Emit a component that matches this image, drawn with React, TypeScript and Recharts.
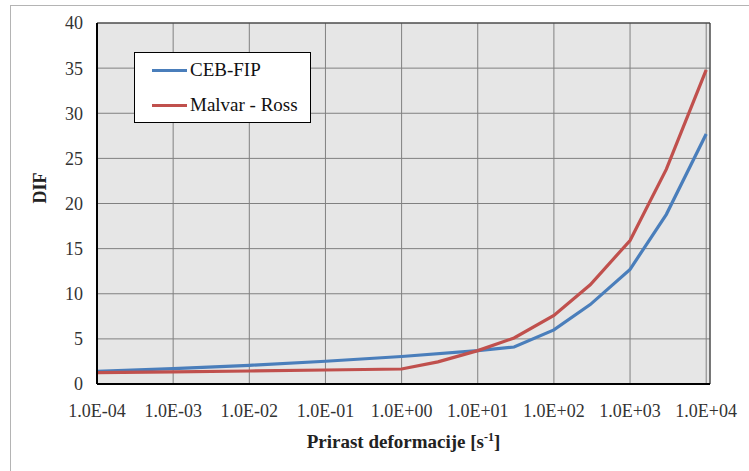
import { LineChart, Line, XAxis, YAxis, CartesianGrid, ReferenceLine } from 'recharts'

// strain rate [1/s] and dynamic increase factor
const cebRates = [1e-4, 1e-3, 1e-2, 1e-1, 1, 10, 30, 100, 300, 1000, 3000, 10000]
const cebDif = [1.4, 1.7, 2.07, 2.52, 3.05, 3.7, 4.1, 6.0, 8.8, 12.7, 18.8, 27.7]
const mrRates = [1e-4, 1e-3, 1e-2, 1e-1, 1, 3, 10, 30, 100, 300, 1000, 3000, 10000]
const mrDif = [1.25, 1.34, 1.44, 1.55, 1.66, 2.45, 3.7, 5.1, 7.6, 11.0, 15.9, 23.8, 34.8]

const xTicks = [1e-4, 1e-3, 1e-2, 1e-1, 1, 10, 100, 1000, 10000]
const yTicks = [0, 5, 10, 15, 20, 25, 30, 35, 40]

const series = [
  { name: 'CEB-FIP', color: '#4a7ebb', rates: cebRates, dif: cebDif },
  { name: 'Malvar - Ross', color: '#c0504d', rates: mrRates, dif: mrDif },
]

const FONT = "'Liberation Serif', 'Times New Roman', serif"

const fmtExp = (v: number) => {
  const e = Math.round(Math.log10(v))
  return `1.0E${e < 0 ? '-' : '+'}${String(Math.abs(e)).padStart(2, '0')}`
}

function XTitle({ viewBox }: any) {
  const cx = viewBox.x + viewBox.width / 2
  return (
    <text x={cx} y={448} textAnchor="middle" fill="#222" fontSize={19} fontWeight="bold" fontFamily={FONT}>
      Prirast deformacije [s<tspan fontSize={12} dy={-7}>-1</tspan><tspan dy={7}>]</tspan>
    </text>
  )
}

function LegendBox() {
  return (
    <div style={{ position: 'absolute', left: 134, top: 52, width: 175, height: 69, background: '#fff', border: '1px solid #000', fontFamily: FONT, fontSize: 19, color: '#111' }}>
      {series.map((s, i) => (
        <div key={s.name} style={{ position: 'absolute', left: 17, top: 6 + i * 35, display: 'flex', alignItems: 'center', whiteSpace: 'nowrap' }}>
          <span style={{ display: 'inline-block', width: 35, height: 3, background: s.color, marginRight: 3 }} />
          <span>{s.name}</span>
        </div>
      ))}
    </div>
  )
}

export default function App() {
  return (
    <div style={{ position: 'absolute', left: 0, top: 0, width: 749, height: 471, overflow: 'hidden', background: '#fff' }}>
      <div style={{ position: 'absolute', left: 10, top: 5, width: 900, height: 600, border: '1px solid #b4b4b4' }} />
      <div style={{ position: 'absolute', left: 0, top: 0 }}>
        <LineChart width={749} height={471} margin={{ top: 23, right: 39, left: 0, bottom: 0 }}>
          <CartesianGrid fill="#e6e6e6" stroke="#808080" strokeWidth={1} />
          <XAxis
            type="number"
            dataKey="x"
            scale="log"
            domain={[1e-4, 11220]}
            allowDataOverflow
            ticks={xTicks}
            interval={0}
            tickFormatter={fmtExp}
            height={87}
            tickSize={0}
            tickMargin={20}
            axisLine={{ stroke: '#000', strokeWidth: 2 }}
            tick={{ fill: '#333', fontSize: 18, fontFamily: FONT }}
            label={<XTitle />}
          />
          <YAxis
            type="number"
            domain={[0, 40]}
            ticks={yTicks}
            interval={0}
            width={97}
            tickSize={0}
            tickMargin={14}
            axisLine={{ stroke: '#000', strokeWidth: 2 }}
            tick={{ fill: '#333', fontSize: 18, fontFamily: FONT }}
            label={{ value: 'DIF', angle: -90, position: 'insideLeft', offset: 40, fill: '#222', fontSize: 18, fontWeight: 'bold', fontFamily: FONT }}
          />
          <ReferenceLine y={40} stroke="#333" strokeWidth={1} />
          <ReferenceLine x={11220} stroke="#333" strokeWidth={1} />
          {series.map((s) => (
            <Line
              key={s.name}
              name={s.name}
              data={s.rates.map((x, i) => ({ x, y: s.dif[i] }))}
              dataKey="y"
              type="linear"
              stroke={s.color}
              strokeWidth={3.2}
              dot={false}
              isAnimationActive={false}
            />
          ))}
        </LineChart>
      </div>
      <LegendBox />
    </div>
  )
}
